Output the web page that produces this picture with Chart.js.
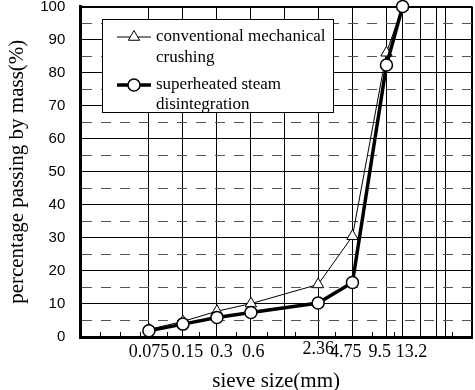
<!DOCTYPE html>
<html><head><meta charset="utf-8">
<script src="https://cdn.jsdelivr.net/npm/chart.js@4.4.1/dist/chart.umd.min.js"></script>
<style>html,body{margin:0;padding:0;background:#fff;}canvas{display:block;}</style>
</head><body>
<canvas id="c" width="475" height="390"></canvas>
<script>
// ---- data ----
const sieveSizes = [0.075, 0.15, 0.3, 0.6, 2.36, 4.75, 9.5, 13.2];
const conventional = [2.3, 4.7, 7.8, 10.1, 15.9, 30.5, 86, 100];
const steam = [1.9, 3.9, 5.9, 7.4, 10.3, 16.5, 82.3, 100];
const seriesNames = [['conventional mechanical', 'crushing'], ['superheated steam', 'disintegration']];
const xTickLabels = ['0.075', '0.15', '0.3', '0.6', '2.36', '4.75', '9.5', '13.2'];
const xGridSizes = [0.075, 0.15, 0.3, 0.6, 1.18, 2.36, 4.75, 9.5, 13.2, 19, 26.5, 31.5];
const xMinorTicks = [0.028, 0.042, 0.063, 0.11, 0.21, 0.445, 0.84, 1.48, 3.35, 7.1, 11.1, 36.3];
const xRange = [0.0185, 54.3];
const yRange = [0, 100];
const xTitle = 'sieve size(mm)';
const yTitle = 'percentage passing by mass(%)';

// ---- styling helpers (not data) ----
const labelShift = {'0.15': 2, '0.3': 2, '0.6': 1, '4.75': -3, '9.5': -3, '13.2': 4};
const raisedLabels = ['2.36'];
const near = (a, b) => Math.abs(a - b) < 1e-9;
const isGrid = v => xGridSizes.some(g => near(g, v)) || near(v, xRange[1]);
const labelFor = v => {
  const k = sieveSizes.findIndex(s => near(s, v));
  if (k < 0) return '';
  const t = xTickLabels[k];
  const n = labelShift[t] || 0;
  return n > 0 ? ' '.repeat(n) + t : t + ' '.repeat(-n);
};

const boxLegend = {
  id: 'boxLegend',
  beforeDatasetsDraw(chart) {
    const {ctx, chartArea: a} = chart;
    const x = Math.round(a.left + 22), y = Math.round(a.top + 12.5), w = 231, h = 93;
    ctx.save();
    ctx.fillStyle = '#fff';
    ctx.fillRect(x, y, w, h);
    ctx.strokeStyle = '#000';
    ctx.lineWidth = 1;
    ctx.setLineDash([]);
    ctx.strokeRect(x + 0.5, y + 0.5, w, h);
    const rows = [{line: 18, base: [22, 42.5]}, {line: 66, base: [70, 89.5]}];
    chart.data.datasets.forEach((ds, i) => {
      const r = rows[i];
      const ly = y + r.line;
      ctx.strokeStyle = '#000';
      ctx.lineWidth = ds.borderWidth;
      ctx.beginPath();
      ctx.moveTo(x + 15, ly);
      ctx.lineTo(x + 49, ly);
      ctx.stroke();
      ctx.fillStyle = '#fff';
      ctx.lineWidth = ds.pointBorderWidth;
      Chart.helpers.drawPoint(ctx, {pointStyle: ds.pointStyle, radius: ds.pointRadius, borderWidth: ds.pointBorderWidth, rotation: 0}, x + 32, ly);
      ctx.fillStyle = '#000';
      ctx.font = '17px "Liberation Serif", "Times New Roman", serif';
      ctx.textAlign = 'left';
      ctx.textBaseline = 'alphabetic';
      ds.label.forEach((t, j) => ctx.fillText(t, x + 54, y + r.base[j]));
    });
    ctx.restore();
  }
};

new Chart(document.getElementById('c'), {
  type: 'line',
  data: {
    datasets: [
      {
        label: seriesNames[0],
        data: sieveSizes.map((s, i) => ({x: s, y: conventional[i]})),
        borderColor: '#000', borderWidth: 1, tension: 0,
        pointStyle: 'triangle', pointRadius: 6.5, pointBorderWidth: 1,
        pointBackgroundColor: '#fff', pointBorderColor: '#000',
        clip: false, order: 1
      },
      {
        label: seriesNames[1],
        data: sieveSizes.map((s, i) => ({x: s, y: steam[i]})),
        borderColor: '#000', borderWidth: 3.5, tension: 0,
        pointStyle: 'circle', pointRadius: 6, pointBorderWidth: 1.5,
        pointBackgroundColor: '#fff', pointBorderColor: '#000',
        clip: false, order: 0
      }
    ]
  },
  options: {
    responsive: false,
    devicePixelRatio: 1,
    animation: false,
    events: [],
    layout: {autoPadding: false, padding: {left: 0, right: 3, top: 0, bottom: 0}},
    plugins: {legend: {display: false}, tooltip: {enabled: false}},
    scales: {
      x: {
        type: 'logarithmic',
        bounds: 'data',
        min: xRange[0], max: xRange[1],
        afterBuildTicks: s => {
          const vals = [...xGridSizes, ...xMinorTicks, xRange[1]].sort((a, b) => a - b);
          s.ticks = vals.map(v => ({value: v}));
        },
        afterFit: s => { s.height = 53; },
        ticks: {
          autoSkip: false, maxRotation: 0, minRotation: 0,
          padding: 0, color: '#000',
          font: c => ({family: '"Liberation Serif", "Times New Roman", serif', size: 18,
            lineHeight: (c.tick && raisedLabels.includes(labelFor(c.tick.value).trim())) ? '34px' : '40px'}),
          callback: v => labelFor(v)
        },
        grid: {
          color: c => (c.tick && isGrid(c.tick.value)) ? '#000' : 'rgba(0,0,0,0)',
          lineWidth: c => (c.tick && near(c.tick.value, xRange[1])) ? 2 : 1,
          drawTicks: true, tickLength: -5, tickColor: '#000', tickWidth: 1
        },
        border: {display: true, color: '#000', width: 3},
        title: {display: true, text: xTitle, color: '#000',
          font: {family: '"Liberation Serif", "Times New Roman", serif', size: 21, lineHeight: '17px'},
          padding: {top: 0, bottom: 0}}
      },
      y: {
        type: 'linear',
        min: yRange[0], max: yRange[1],
        ticks: {
          stepSize: 5, maxTicksLimit: 25, padding: 0, color: '#000',
          font: {family: '"Liberation Sans", Arial, sans-serif', size: 15, lineHeight: '13px'},
          callback: v => (v % 10 === 0 ? v : '')
        },
        grid: {
          drawTicks: true, tickLength: 15, tickColor: 'rgba(0,0,0,0)', tickWidth: 0,
          color: c => (c.tick && c.tick.value % 10 !== 0) ? '#555' : '#000',
          lineWidth: c => (c.tick && c.tick.value === yRange[1]) ? 2 : 1
        },
        border: {display: true, color: '#000', width: 3,
          dash: c => (c.tick && c.tick.value % 10 !== 0) ? [10, 9] : []},
        title: {display: true, text: yTitle, color: '#000',
          font: {family: '"Liberation Serif", "Times New Roman", serif', size: 21},
          padding: {top: 5, bottom: 10}}
      }
    }
  },
  plugins: [boxLegend]
});
</script>
</body></html>
